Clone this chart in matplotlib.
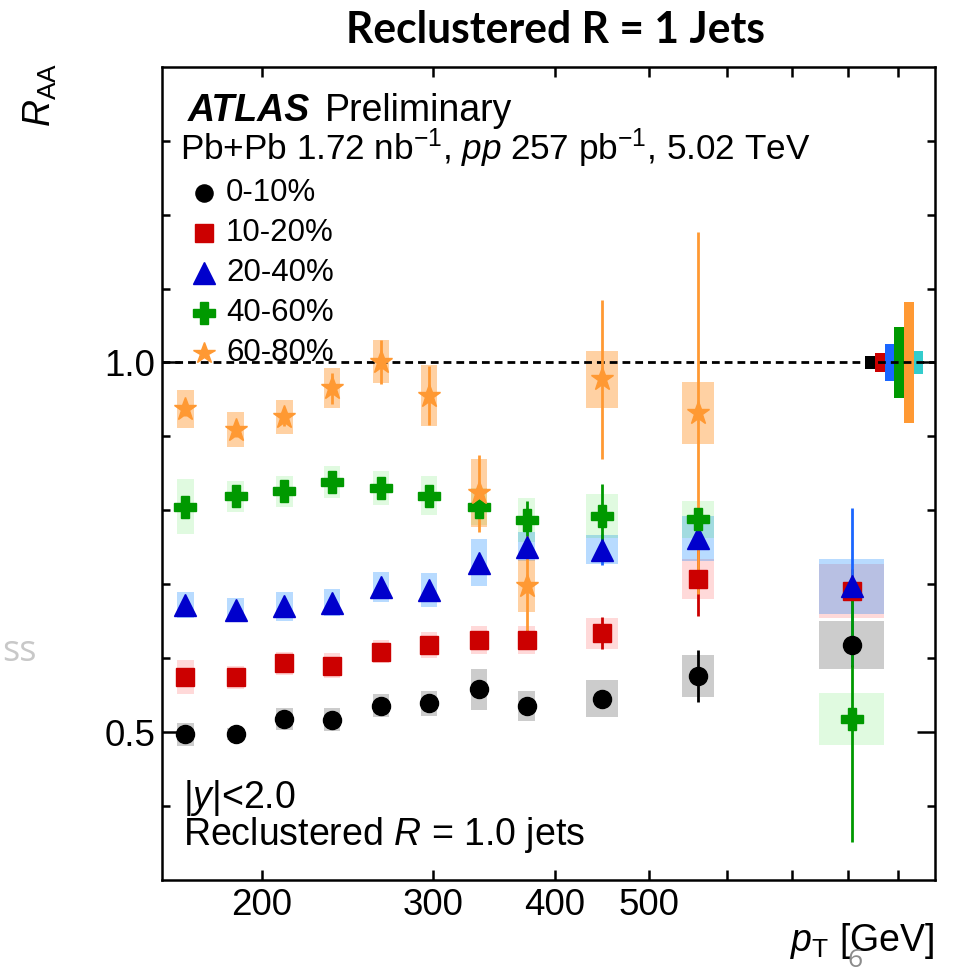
import numpy as np
import matplotlib
matplotlib.use("Agg")
import matplotlib.pyplot as plt
from matplotlib.patches import Rectangle
from matplotlib.transforms import blended_transform_factory
from matplotlib.ticker import NullFormatter

plt.rcParams["font.family"] = ["Liberation Sans", "DejaVu Sans"]
plt.rcParams["mathtext.fontset"] = "custom"
plt.rcParams["mathtext.rm"] = "Liberation Sans"
plt.rcParams["mathtext.it"] = "Liberation Sans:italic"
plt.rcParams["mathtext.bf"] = "Liberation Sans:bold"

# --- pT bins (GeV): centres and bin widths in decades ---
pt = [167, 188, 211, 236, 265, 297, 334, 374, 447, 561, 807]
bin_dex = [0.05, 0.05, 0.05, 0.05, 0.05, 0.05, 0.05, 0.05, 0.1, 0.1, 0.2]

# --- R_AA per centrality: value, stat. error, syst. error ---
raa_0_10 = [0.497, 0.497, 0.518, 0.517, 0.536, 0.539, 0.558, 0.535, 0.545, 0.576, 0.618]
stat_0_10 = [0.005, 0.005, 0.005, 0.006, 0.006, 0.007, 0.008, 0.009, 0.012, 0.035, 0.030]
sys_0_10 = [0.016, 0.008, 0.015, 0.016, 0.016, 0.017, 0.028, 0.020, 0.025, 0.028, 0.032]

raa_10_20 = [0.574, 0.574, 0.593, 0.590, 0.609, 0.618, 0.625, 0.625, 0.634, 0.707, 0.691]
stat_10_20 = [0.004, 0.004, 0.005, 0.005, 0.006, 0.007, 0.008, 0.013, 0.022, 0.050, 0.030]
sys_10_20 = [0.023, 0.016, 0.016, 0.017, 0.015, 0.018, 0.019, 0.019, 0.021, 0.027, 0.036]

raa_20_40 = [0.672, 0.665, 0.670, 0.675, 0.696, 0.692, 0.729, 0.751, 0.747, 0.762, 0.697]
stat_20_40 = [0.004, 0.004, 0.005, 0.005, 0.006, 0.007, 0.009, 0.012, 0.021, 0.015, 0.106]
sys_20_40 = [0.018, 0.016, 0.020, 0.018, 0.020, 0.023, 0.032, 0.020, 0.020, 0.030, 0.037]

raa_40_60 = [0.805, 0.819, 0.826, 0.838, 0.830, 0.820, 0.805, 0.787, 0.792, 0.788, 0.518]
stat_40_60 = [0.005, 0.005, 0.006, 0.006, 0.007, 0.008, 0.012, 0.025, 0.044, 0.015, 0.167]
sys_40_60 = [0.037, 0.021, 0.021, 0.022, 0.023, 0.026, 0.025, 0.030, 0.030, 0.025, 0.035]

# 60-80% has no point in the last bin
raa_60_80 = [0.937, 0.909, 0.926, 0.965, 1.001, 0.955, 0.823, 0.698, 0.977, 0.932]
stat_60_80 = [0.010, 0.010, 0.012, 0.021, 0.030, 0.040, 0.052, 0.067, 0.107, 0.245]
sys_60_80 = [0.026, 0.024, 0.023, 0.027, 0.029, 0.041, 0.046, 0.035, 0.038, 0.042]

# normalisation uncertainties (TAA per centrality + lumi)
norm_unc = [0.009, 0.013, 0.025, 0.048, 0.082, 0.016]
norm_colors = ["black", "#cc0000", "#1a66ff", "#009900", "#ff9933", "#33cccc"]

series = [
    ("0-10%", raa_0_10, stat_0_10, sys_0_10, "o", 13, "black", "black", "black", 0.20),
    ("10-20%", raa_10_20, stat_10_20, sys_10_20, "s", 13, "#cc0000", "#cc0000", "#ff0000", 0.15),
    ("20-40%", raa_20_40, stat_20_40, sys_20_40, "^", 16, "#0000cc", "#1a66ff", "#0080ff", 0.28),
    ("40-60%", raa_40_60, stat_40_60, sys_40_60, "P", 16, "#009900", "#009900", "#00dd00", 0.12),
    ("60-80%", raa_60_80, stat_60_80, sys_60_80, "*", 17, "#ff9933", "#ff9933", "#ff8c1a", 0.40),
]

fig = plt.figure(figsize=(9.6, 9.76), dpi=100)
ax = fig.add_axes([0.16875, 0.09836, 0.80521, 0.8333])
ax.set_xscale("log")

# systematic boxes, 1/3 of the bin width
for lab, v, st, sy, m, ms, col, ecol, bcol, balpha in series:
    n = len(v)
    p = np.array(pt[:n], dtype=float)
    hw = np.array(bin_dex[:n]) / 6.0
    left = p * 10 ** (-hw)
    right = p * 10 ** hw
    v = np.array(v)
    sy = np.array(sy)
    ax.bar(left, 2 * sy, width=right - left, bottom=v - sy, align="edge",
           color=bcol, alpha=balpha, linewidth=0, zorder=1)

# normalisation boxes at unity, right edge of the plot
trans = blended_transform_factory(ax.transAxes, ax.transData)
for i, (u, c) in enumerate(zip(norm_unc, norm_colors)):
    ax.add_patch(Rectangle((0.9095 + i * 0.0126, 1 - u), 0.0126, 2 * u,
                           transform=trans, color=c, lw=0, zorder=2))

ax.axhline(1.0, color="black", lw=2.0, ls=(0, (2.8, 1.8)), zorder=3)

# points with statistical errors
for lab, v, st, sy, m, ms, col, ecol, bcol, balpha in series:
    n = len(v)
    ax.errorbar(pt[:n], v, yerr=st, fmt=m, ms=ms, color=col, mec=col, mfc=col,
                ecolor=ecol, elinewidth=2.0, capsize=0, zorder=4)

ax.set_xlim(158, 982)
ax.set_ylim(0.3, 1.4)
ax.set_xticks([200, 300, 400, 500])
ax.set_xticklabels(["200", "300", "400", "500"])
ax.set_xticks([600, 700, 800, 900], minor=True)
ax.xaxis.set_minor_formatter(NullFormatter())
ax.set_yticks([0.5, 1.0])
ax.set_yticklabels(["0.5", "1.0"])
ax.set_yticks([0.4, 0.6, 0.7, 0.8, 0.9, 1.1, 1.2, 1.3], minor=True)

for s in ax.spines.values():
    s.set_linewidth(1.8)
ax.tick_params(which="both", direction="in", top=True, right=True, width=1.8,
               labelsize=26.5)
ax.tick_params(axis="x", which="both", length=7.5, pad=6)
ax.tick_params(axis="y", which="major", length=13, pad=5)
ax.tick_params(axis="y", which="minor", length=6)

# legend
leg_y = [0.8447, 0.7955, 0.7463, 0.6972, 0.648]
for (lab, v, st, sy, m, ms, col, ecol, bcol, balpha), yy in zip(series, leg_y):
    ax.plot([0.0543], [yy], marker=m, ms=ms * 0.95, color=col, mec=col,
            transform=ax.transAxes, clip_on=False, zorder=5)
    ax.text(0.0828, yy, lab, transform=ax.transAxes, fontsize=22.5,
            va="center", ha="left")

ax.text(0.0336, 0.9336, "ATLAS", transform=ax.transAxes, fontsize=27,
        fontweight="bold", fontstyle="italic", va="baseline")
ax.text(0.2105, 0.9336, "Preliminary", transform=ax.transAxes, fontsize=27,
        va="baseline")
ax.text(0.0233, 0.8853,
        r"Pb+Pb 1.72 nb$^{\mathrm{-1}}$, $pp$ 257 pb$^{\mathrm{-1}}$, 5.02 TeV",
        transform=ax.transAxes, fontsize=25.3, va="baseline")
ax.text(0.027, 0.0885, r"$|y|$<2.0", transform=ax.transAxes, fontsize=27,
        va="baseline")
ax.text(0.027, 0.043, r"Reclustered $R$ = 1.0 jets", transform=ax.transAxes,
        fontsize=27, va="baseline")

ax.text(1.0, -0.0873, r"$p_{\mathrm{T}}$ [GeV]", transform=ax.transAxes,
        fontsize=27, ha="right", va="baseline")
fig.text(40 / 960, 1 - 95 / 976, r"$R_{\mathrm{AA}}$", rotation=90,
         fontsize=27, ha="center", va="center")

fig.text(556 / 960, 1 - 43 / 976, "Reclustered R = 1 Jets", family="Lato",
         fontweight="bold", fontsize=30.7, ha="center", va="baseline")
fig.text(37 / 960, 1 - 661 / 976, "ss", family="Open Sans", color="#c8c8c8",
         fontsize=26, ha="right", va="baseline")
fig.text(855 / 960, 1 - 967 / 976, "6", family="Open Sans", color="#8c8c8c",
         fontsize=19, ha="center", va="baseline")

fig.savefig("out.png", dpi=100)
